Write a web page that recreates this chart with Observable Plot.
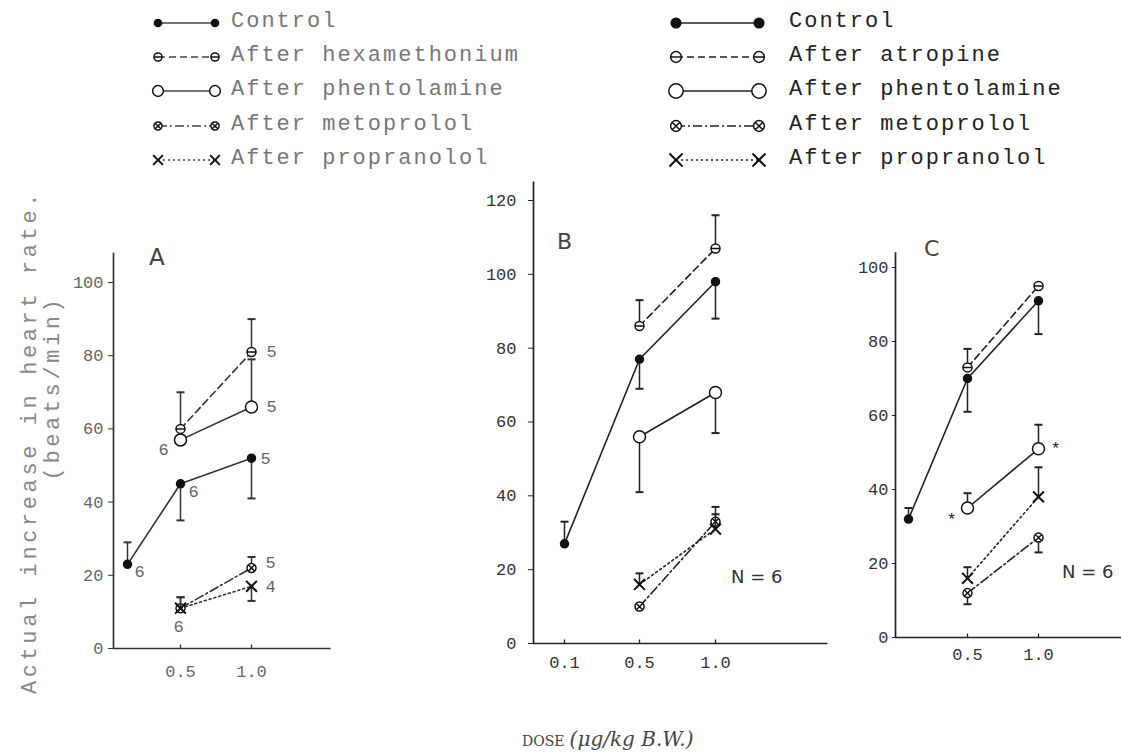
<!DOCTYPE html>
<html><head><meta charset="utf-8">
<script src="https://cdn.jsdelivr.net/npm/d3@7"></script>
<script src="https://cdn.jsdelivr.net/npm/@observablehq/plot@0.6"></script>
<style>
body{margin:0;background:#fff;}
#page{position:relative;width:1121px;height:756px;overflow:hidden;font-family:"Liberation Mono",monospace;}
.panel{position:absolute;}
.panel svg text{font-size:17px !important;font-family:"Liberation Mono",monospace;}
.abs{position:absolute;white-space:nowrap;}
.leg{font-size:22px;letter-spacing:2px;}
</style></head><body><div id="page"></div>
<script>
// ---------- data ----------
const doses3 = [0.1, 0.5, 1.0];
const doses2 = [0.5, 1.0];
const xTickLabelsA = [0.5, 1.0];
const xTickLabelsB = [0.1, 0.5, 1.0];
const xTickLabelsC = [0.5, 1.0];
const yTicksA = [0, 20, 40, 60, 80, 100];
const yTicksB = [0, 20, 40, 60, 80, 100, 120];
const yTicksC = [0, 20, 40, 60, 80, 100];

// Panel A
const aControl = [23, 45, 52];      const aControlErr = [29, 35, 41];  const aControlN = ["6", "6", "5"];
const aHexa = [60, 81];             const aHexaErr = [70, 90];         const aHexaN = ["", "5"];
const aPhent = [57, 66];            const aPhentErr = [null, 79];      const aPhentN = ["6", "5"];
const aMeto = [11, 22];             const aMetoErr = [14, 25];         const aMetoN = ["6", "5"];
const aProp = [11, 17];             const aPropErr = [14, 13];         const aPropN = ["", "4"];
// Panel B
const bControl = [27, 77, 98];      const bControlErr = [33, 69, 88];
const bAtro = [86, 107];            const bAtroErr = [93, 116];
const bPhent = [56, 68];            const bPhentErr = [41, 57];
const bMeto = [10, 33];             const bMetoErr = [null, 37];
const bProp = [16, 31];             const bPropErr = [19, 35];
// Panel C
const cControl = [32, 70, 91];      const cControlErr = [35, 61, 82];
const cAtro = [73, 95];             const cAtroErr = [78, null];
const cPhent = [35, 51];            const cPhentErr = [39, 57.5];      const cPhentN = ["*", "*"];
const cProp = [16, 38];             const cPropErr = [19, 46];
const cMeto = [12, 27];             const cMetoErr = [9, 23];

// ---------- symbols ----------
const rad = s => Math.sqrt(s / Math.PI);
const capSym = {draw(ctx, s){const r = rad(s); ctx.moveTo(-r, 0); ctx.lineTo(r, 0);}};
const upSym = {draw(ctx, s){const r = rad(s); ctx.moveTo(0, 0); ctx.lineTo(0, -r);}};
const thetaSym = {draw(ctx, s){const r = rad(s); ctx.moveTo(r, 0); ctx.arc(0, 0, r, 0, 2*Math.PI); ctx.moveTo(-r, 0); ctx.lineTo(r, 0);}};
const otimesSym = {draw(ctx, s){const r = rad(s); ctx.moveTo(r, 0); ctx.arc(0, 0, r, 0, 2*Math.PI); const k = r*0.7; ctx.moveTo(-k,-k); ctx.lineTo(k,k); ctx.moveTo(-k,k); ctx.lineTo(k,-k);}};

const STY = {
  control: {symbol: "circle", r: 4, fill: "#111", dash: null},
  drug1:   {symbol: thetaSym, r: 4.5, fill: "#fff", dash: "7,4"},
  phent:   {symbol: "circle", r: 6, fill: "#fff", dash: null},
  meto:    {symbol: otimesSym, r: 4.5, fill: "#fff", dash: "9,3,2,3"},
  prop:    {symbol: "times", r: 5, fill: "none", dash: "2,3", sw: 2}
};

function rows(doses, values, errs, notes) {
  return doses.map((d, i) => ({dose: d, value: values[i], err: errs ? errs[i] : null, note: notes ? notes[i] : ""}));
}
function seriesMarks(data, st, ink) {
  const errData = data.filter(d => d.err != null);
  return [
    Plot.line(data, {x: "dose", y: "value", stroke: ink, strokeWidth: 1.6, strokeDasharray: st.dash}),
    Plot.ruleX(errData, {x: "dose", y1: "value", y2: "err", stroke: ink, strokeWidth: 1.5}),
    Plot.dot(errData, {x: "dose", y: "err", symbol: capSym, r: 4, stroke: ink, strokeWidth: 2}),
    Plot.dot(data, {x: "dose", y: "value", symbol: st.symbol, r: st.r, fill: st.fill, stroke: "#111", strokeWidth: st.sw || 1.5})
  ];
}
function noteMark(data, idx, dx, dy, color) {
  return Plot.text(data.filter((d, i) => i === idx && d.note), {x: "dose", y: "value", text: "note", dx, dy, fill: color, fontSize: 17, fontFamily: "Liberation Mono"});
}

function panel(cfg) {
  const div = document.createElement("div");
  div.className = "panel";
  div.style.left = cfg.left + "px"; div.style.top = cfg.top + "px";
  const ink = cfg.ink;
  const chart = Plot.plot({
    width: cfg.w, height: cfg.h,
    marginLeft: cfg.xRange[0], marginRight: 0,
    marginTop: cfg.yRange[1], marginBottom: cfg.h - cfg.yRange[0],
    x: {type: "linear", domain: [0, 0.1, 0.5, 1.0], range: cfg.xRange},
    y: {type: "linear", domain: [0, cfg.yMax], range: cfg.yRange},
    style: {background: "transparent", fontFamily: "Liberation Mono", fontSize: "17px", color: cfg.labelColor},
    marks: [
      Plot.ruleY([0], {x1: 0, x2: cfg.xEnd, stroke: ink, strokeWidth: 1.7}),
      Plot.ruleX([0], {y1: 0, y2: cfg.yTop, stroke: ink, strokeWidth: 1.7}),
      Plot.axisY({ticks: cfg.yTicks, tickSize: cfg.ytSize, tickPadding: cfg.ytPad, label: null, fontSize: 17, stroke: ink}),
      Plot.axisX({ticks: cfg.xTicks, tickFormat: d => d.toFixed(1), tickSize: 0, tickPadding: cfg.xtPad, label: null, fontSize: 17}),
      Plot.dot(cfg.xTicks.map(d => ({dose: d})), {x: "dose", y: () => 0, symbol: upSym, r: 4, stroke: ink, strokeWidth: 1.3}),
      ...cfg.marks
    ]
  });
  div.appendChild(chart);
  document.getElementById("page").appendChild(div);
}

// ---------- Panel A ----------
const gA = "#666";
const A = {
  control: rows(doses3, aControl, aControlErr, aControlN),
  hexa: rows(doses2, aHexa, aHexaErr, aHexaN),
  phent: rows(doses2, aPhent, aPhentErr, aPhentN),
  meto: rows(doses2, aMeto, aMetoErr, aMetoN),
  prop: rows(doses2, aProp, aPropErr, aPropN)
};
panel({
  left: 60, top: 200, w: 290, h: 500, ink: "#333", labelColor: "#666",
  xRange: [53, 67, 120, 191], yRange: [448, 82], yMax: 100, yTop: 108, xEnd: 1.56,
  yTicks: yTicksA, xTicks: xTickLabelsA, ytSize: 5, ytPad: 5, xtPad: 16,
  marks: [
    ...seriesMarks(A.hexa, STY.drug1, "#333"),
    ...seriesMarks(A.phent, STY.phent, "#333"),
    ...seriesMarks(A.meto, STY.meto, "#333"),
    ...seriesMarks(A.prop, STY.prop, "#333"),
    ...seriesMarks(A.control, STY.control, "#333"),
    noteMark(A.control, 0, 12, 7, gA), noteMark(A.control, 1, 13, 8, gA), noteMark(A.control, 2, 14, 0, gA),
    noteMark(A.hexa, 1, 20, 0, gA),
    noteMark(A.phent, 0, -17, 10, gA), noteMark(A.phent, 1, 20, 0, gA),
    noteMark(A.meto, 0, -2, 18, gA), noteMark(A.meto, 1, 19, -5, gA),
    noteMark(A.prop, 1, 19, 0, gA)
  ]
});

// ---------- Panel B ----------
const B = {
  control: rows(doses3, bControl, bControlErr),
  atro: rows(doses2, bAtro, bAtroErr),
  phent: rows(doses2, bPhent, bPhentErr),
  meto: rows(doses2, bMeto, bMetoErr),
  prop: rows(doses2, bProp, bPropErr)
};
panel({
  left: 460, top: 160, w: 380, h: 520, ink: "#222", labelColor: "#333",
  xRange: [73, 104, 179, 255], yRange: [483, 40], yMax: 120, yTop: 125, xEnd: 1.74,
  yTicks: yTicksB, xTicks: xTickLabelsB, ytSize: 5, ytPad: 12, xtPad: 12,
  marks: [
    ...seriesMarks(B.atro, STY.drug1, "#222"),
    ...seriesMarks(B.phent, STY.phent, "#222"),
    ...seriesMarks(B.meto, STY.meto, "#222"),
    ...seriesMarks(B.prop, STY.prop, "#222"),
    ...seriesMarks(B.control, STY.control, "#222")
  ]
});

// ---------- Panel C ----------
const C = {
  control: rows(doses3, cControl, cControlErr),
  atro: rows(doses2, cAtro, cAtroErr),
  phent: rows(doses2, cPhent, cPhentErr, cPhentN),
  meto: rows(doses2, cMeto, cMetoErr),
  prop: rows(doses2, cProp, cPropErr)
};
panel({
  left: 840, top: 220, w: 281, h: 480, ink: "#222", labelColor: "#333",
  xRange: [55, 68, 127, 198], yRange: [417, 47], yMax: 100, yTop: 104, xEnd: 1.6,
  yTicks: yTicksC, xTicks: xTickLabelsC, ytSize: 3, ytPad: 4, xtPad: 10,
  marks: [
    ...seriesMarks(C.atro, STY.drug1, "#222"),
    ...seriesMarks(C.phent, STY.phent, "#222"),
    ...seriesMarks(C.meto, STY.meto, "#222"),
    ...seriesMarks(C.prop, STY.prop, "#222"),
    ...seriesMarks(C.control, STY.control, "#222"),
    noteMark(C.phent, 0, -16, 12, "#222"), noteMark(C.phent, 1, 17, 0, "#222")
  ]
});

// ---------- legends, titles ----------
const legendNamesL = ["Control", "After hexamethonium", "After phentolamine", "After metoprolol", "After propranolol"];
const legendNamesR = ["Control", "After atropine", "After phentolamine", "After metoprolol", "After propranolol"];
const legendKeys = ["control", "drug1", "phent", "meto", "prop"];

function symPath(st, r) {
  const sz = r * r * Math.PI;
  const type = typeof st.symbol === "string" ? {circle: d3.symbolCircle, times: d3.symbolTimes}[st.symbol] : st.symbol;
  return d3.symbol(type, sz)();
}
function legendSvg(x1, x2, rowsY, rScale, ink) {
  const w = 1121, h = 190;
  let s = `<svg width="${w}" height="${h}" style="position:absolute;left:0;top:0">`;
  legendKeys.forEach((k, i) => {
    const st = STY[k], y = rowsY[i];
    s += `<line x1="${x1}" x2="${x2}" y1="${y}" y2="${y}" stroke="${ink}" stroke-width="1.6" ${st.dash ? `stroke-dasharray="${st.dash}"` : ""}/>`;
    [x1, x2].forEach(x => {
      s += `<path d="${symPath(st, st.r * rScale)}" transform="translate(${x},${y})" fill="${st.fill}" stroke="#111" stroke-width="${st.sw || 1.5}"/>`;
    });
  });
  return s + "</svg>";
}
const page = document.getElementById("page");
const rowsY = [23, 57, 91, 126, 160];
page.insertAdjacentHTML("beforeend", legendSvg(158, 215, rowsY, 0.9, "#444"));
page.insertAdjacentHTML("beforeend", legendSvg(676, 759, rowsY, 1.2, "#222"));
legendNamesL.forEach((t, i) => page.insertAdjacentHTML("beforeend",
  `<div class="abs leg" style="left:231px;top:${rowsY[i] - 14}px;color:#777">${t}</div>`));
legendNamesR.forEach((t, i) => page.insertAdjacentHTML("beforeend",
  `<div class="abs leg" style="left:789px;top:${rowsY[i] - 14}px;color:#222">${t}</div>`));

page.insertAdjacentHTML("beforeend",
  `<div class="abs" style="left:30px;top:442px;transform:translate(-50%,-50%) rotate(-90deg);font-size:22px;letter-spacing:3.6px;color:#888">Actual increase in heart rate.</div>`);
page.insertAdjacentHTML("beforeend",
  `<div class="abs" style="left:53px;top:388px;transform:translate(-50%,-50%) rotate(-90deg);font-size:22px;letter-spacing:3.6px;color:#888">(beats/min)</div>`);

page.insertAdjacentHTML("beforeend", `<div class="abs" style="left:149px;top:244px;font:23px 'DejaVu Sans';color:#444">A</div>`);
page.insertAdjacentHTML("beforeend", `<div class="abs" style="left:557px;top:229px;font:22px 'DejaVu Sans';color:#444">B</div>`);
page.insertAdjacentHTML("beforeend", `<div class="abs" style="left:924px;top:236px;font:22px 'DejaVu Sans';color:#444">C</div>`);
page.insertAdjacentHTML("beforeend", `<div class="abs" style="left:731px;top:566px;font:18px 'DejaVu Sans';color:#333">N = 6</div>`);
page.insertAdjacentHTML("beforeend", `<div class="abs" style="left:1062px;top:561px;font:18px 'DejaVu Sans';color:#333">N = 6</div>`);
page.insertAdjacentHTML("beforeend",
  `<div class="abs" style="left:522px;top:727px;font-family:'DejaVu Serif';font-style:italic;color:#444"><span style="font-size:14px;font-style:normal">DOSE</span> <span style="font-size:20px">(μg/kg B.W.)</span></div>`);
</script></body></html>
